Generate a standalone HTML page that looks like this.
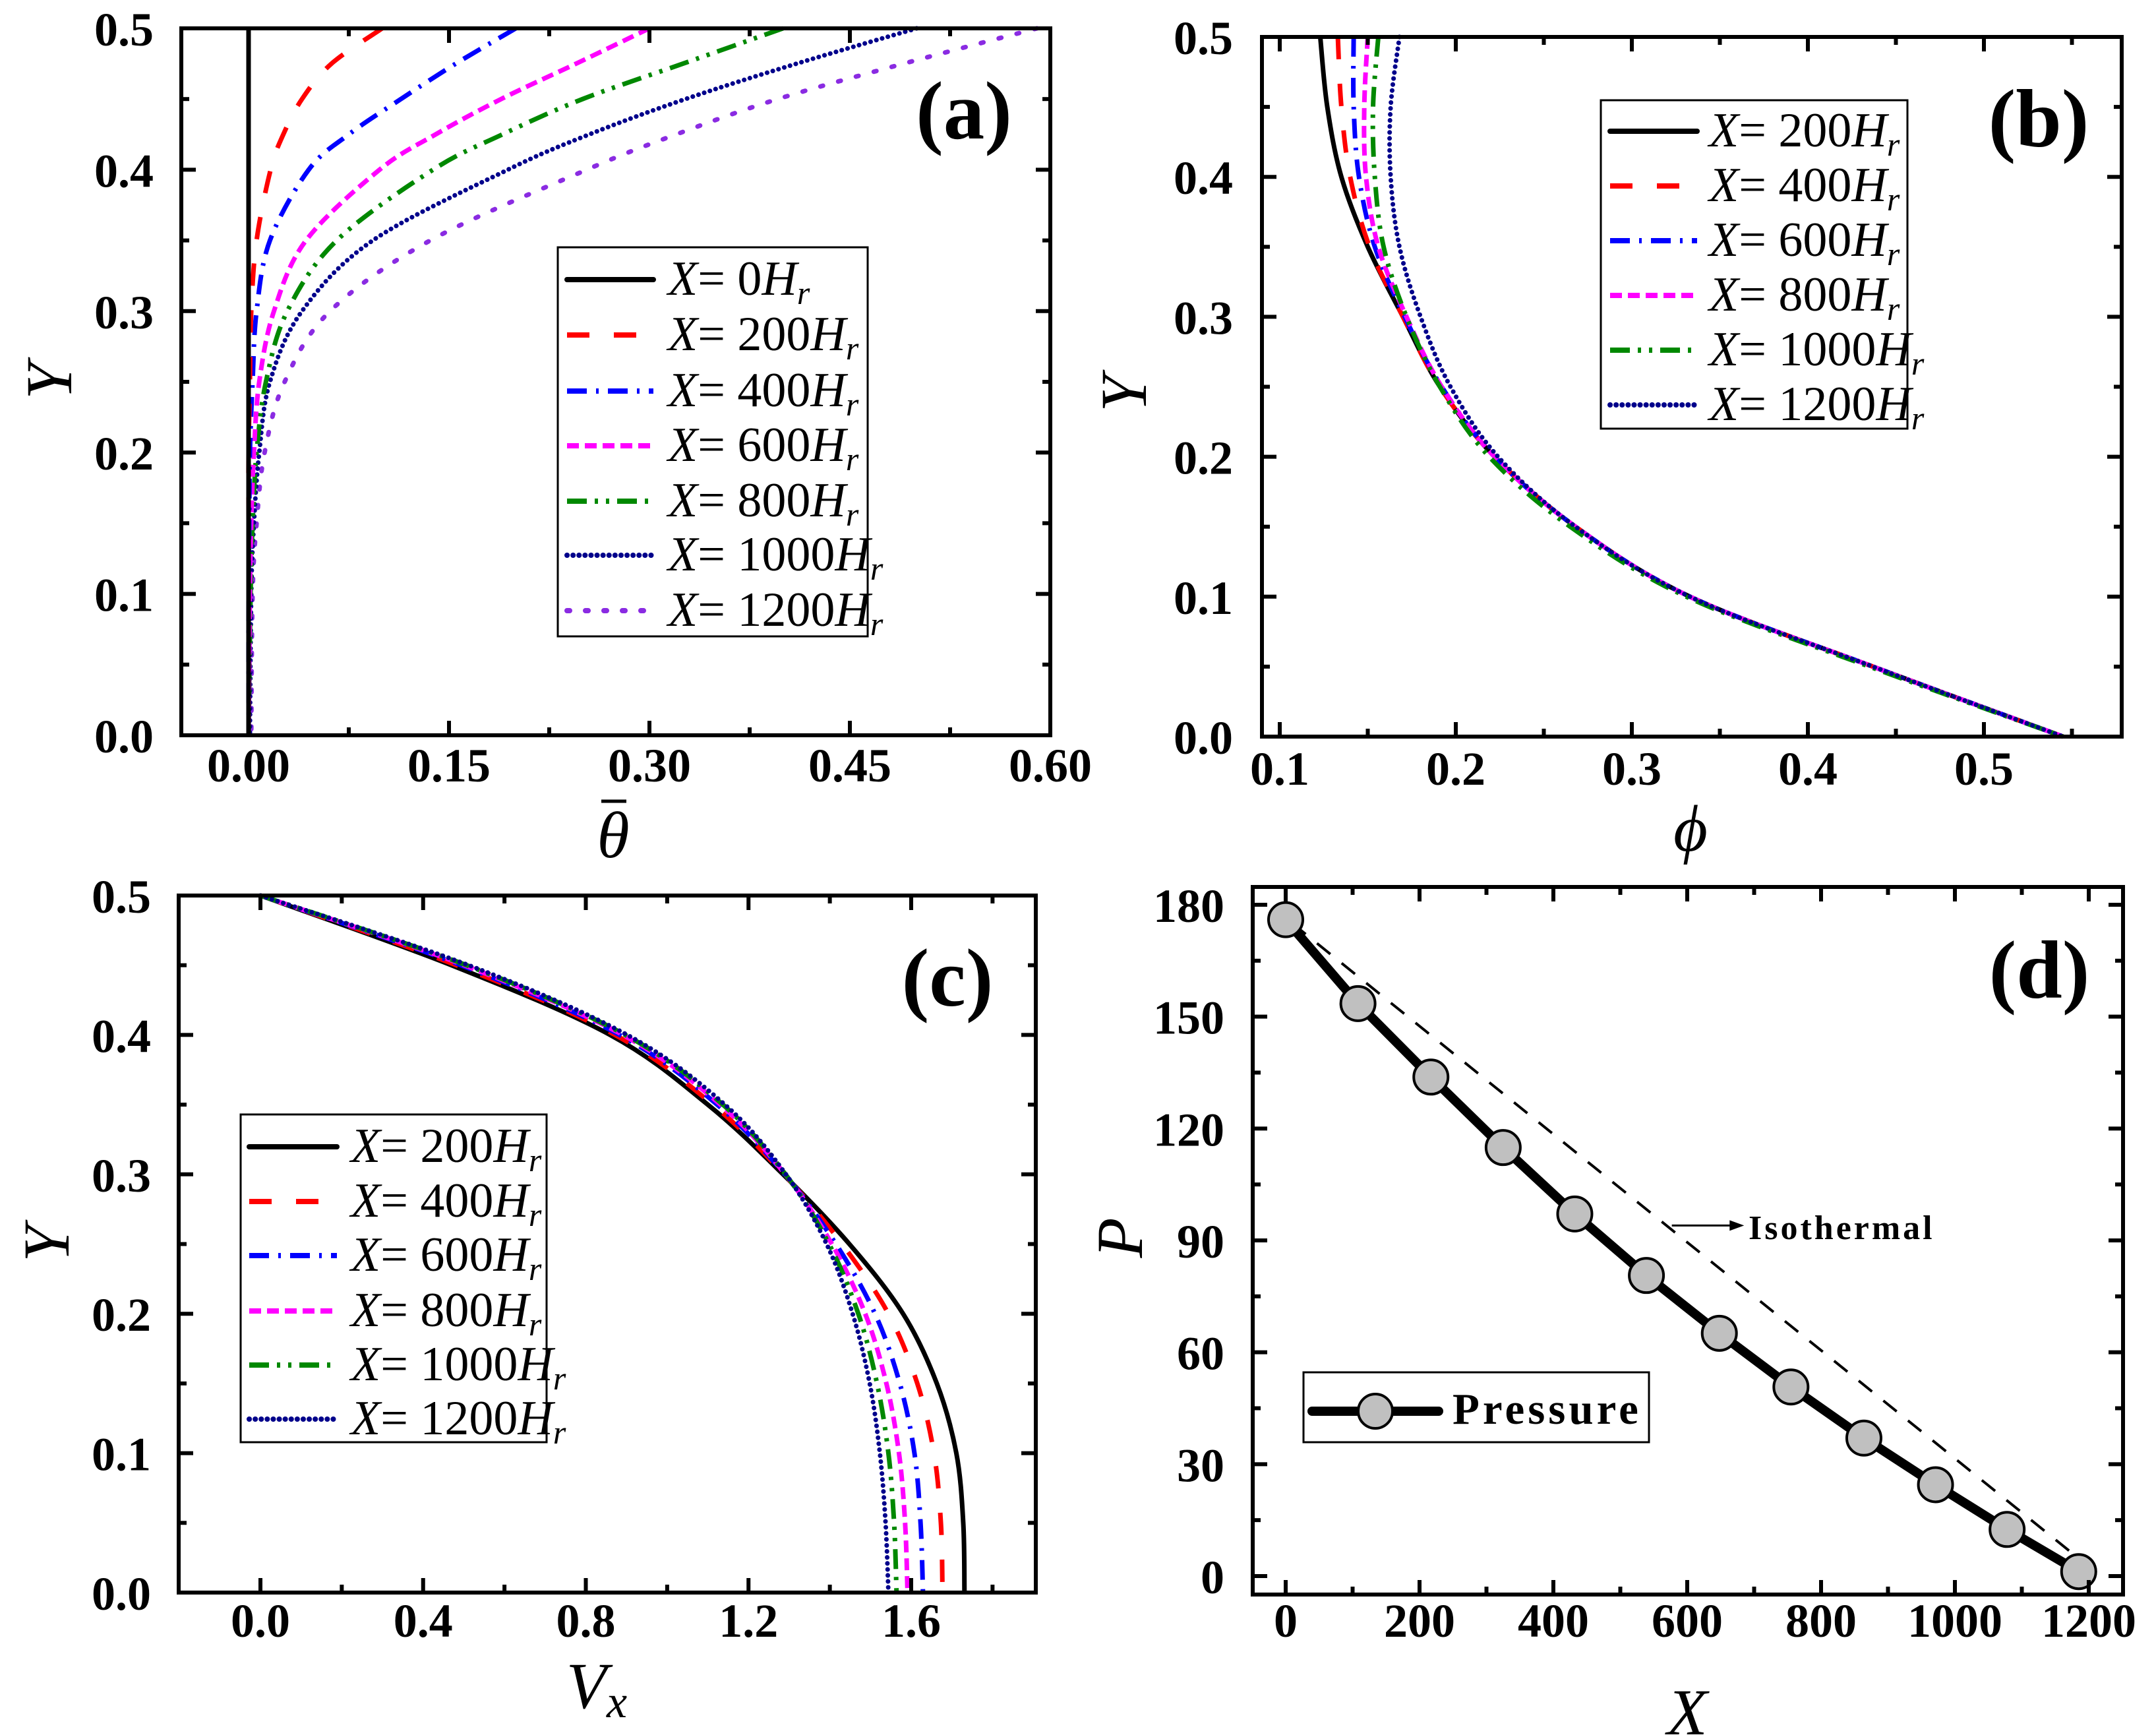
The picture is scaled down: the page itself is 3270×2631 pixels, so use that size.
<!DOCTYPE html>
<html><head><meta charset="utf-8"><style>
html,body{margin:0;padding:0;background:#fff;}
svg{display:block;}
text{font-family:"Liberation Serif",serif;}
.tk{font-weight:bold;font-size:72px;}
.lg{font-size:74px;}
.pl{font-weight:bold;font-size:125px;}
.ti{font-style:italic;font-size:100px;}
</style></head><body>
<svg id="fig" xmlns="http://www.w3.org/2000/svg" width="3270" height="2631" viewBox="0 0 3270 2631">
<rect width="3270" height="2631" fill="#fff"/>
<g id="pa"></g>
<g id="pb"></g>
<g id="pc"></g>
<g id="pd"></g>

<text class="pl" x="1462" y="210" text-anchor="middle">(a)</text>
<text class="pl" x="3092" y="222" text-anchor="middle">(b)</text>
<text class="pl" x="1437" y="1525" text-anchor="middle">(c)</text>
<text class="pl" x="3093" y="1513" text-anchor="middle">(d)</text>

<text class="ti" transform="translate(108,578) rotate(-90)" text-anchor="middle">Y</text>
<g>
<text class="ti" x="930" y="1300" text-anchor="middle">θ</text>
<line x1="912" y1="1215" x2="950" y2="1215" stroke="#000" stroke-width="5"/>
</g>
<text class="ti" transform="translate(1738,597) rotate(-90)" text-anchor="middle">Y</text>
<text class="ti" x="2564" y="1290" text-anchor="middle">ϕ</text>
<text class="ti" transform="translate(104,1886) rotate(-90)" text-anchor="middle">Y</text>
<text class="ti" x="905" y="2590" text-anchor="middle">V<tspan font-size="70" dy="14">x</tspan></text>
<text class="ti" transform="translate(1732,1877) rotate(-90)" text-anchor="middle">P</text>
<text class="ti" x="2559" y="2630" text-anchor="middle">X</text>

<g>
<rect x="846" y="375" width="470" height="590" fill="#fff" stroke="#000" stroke-width="3"/>
<g stroke-width="8" stroke-linecap="round" fill="none">
<line x1="860" y1="424" x2="991" y2="424" stroke="#000"/>
<line x1="860" y1="508" x2="991" y2="508" stroke="#f00" stroke-dasharray="34 37" stroke-linecap="butt"/>
<line x1="860" y1="593" x2="991" y2="593" stroke="#00f" stroke-dasharray="30 14 4 14" stroke-linecap="butt"/>
<line x1="860" y1="676" x2="991" y2="676" stroke="#f0f" stroke-dasharray="18 9" stroke-linecap="butt"/>
<line x1="860" y1="760" x2="991" y2="760" stroke="#080" stroke-dasharray="30 12 5 12 5 12" stroke-linecap="butt"/>
<line x1="860" y1="842" x2="991" y2="842" stroke="#00008b" stroke-dasharray="0.1 9"/>
<line x1="860" y1="926" x2="991" y2="926" stroke="#8a2be2" stroke-dasharray="4 24"/>
</g>
<g class="lg">
<text x="1013" y="447"><tspan font-style="italic">X</tspan>= 0<tspan font-style="italic">H</tspan><tspan font-style="italic" font-size="50" dy="14">r</tspan></text>
<text x="1013" y="531"><tspan font-style="italic">X</tspan>= 200<tspan font-style="italic">H</tspan><tspan font-style="italic" font-size="50" dy="14">r</tspan></text>
<text x="1013" y="616"><tspan font-style="italic">X</tspan>= 400<tspan font-style="italic">H</tspan><tspan font-style="italic" font-size="50" dy="14">r</tspan></text>
<text x="1013" y="699"><tspan font-style="italic">X</tspan>= 600<tspan font-style="italic">H</tspan><tspan font-style="italic" font-size="50" dy="14">r</tspan></text>
<text x="1013" y="783"><tspan font-style="italic">X</tspan>= 800<tspan font-style="italic">H</tspan><tspan font-style="italic" font-size="50" dy="14">r</tspan></text>
<text x="1013" y="865"><tspan font-style="italic">X</tspan>= 1000<tspan font-style="italic">H</tspan><tspan font-style="italic" font-size="50" dy="14">r</tspan></text>
<text x="1013" y="949"><tspan font-style="italic">X</tspan>= 1200<tspan font-style="italic">H</tspan><tspan font-style="italic" font-size="50" dy="14">r</tspan></text>
</g>
</g>

<g>
<rect x="2428" y="152" width="465" height="498" fill="#fff" stroke="#000" stroke-width="3"/>
<g stroke-width="8" stroke-linecap="round" fill="none">
<line x1="2442" y1="199" x2="2574" y2="199" stroke="#000"/>
<line x1="2442" y1="282" x2="2574" y2="282" stroke="#f00" stroke-dasharray="34 37" stroke-linecap="butt"/>
<line x1="2442" y1="365" x2="2574" y2="365" stroke="#00f" stroke-dasharray="30 14 4 14" stroke-linecap="butt"/>
<line x1="2442" y1="448" x2="2574" y2="448" stroke="#f0f" stroke-dasharray="18 9" stroke-linecap="butt"/>
<line x1="2442" y1="531" x2="2574" y2="531" stroke="#080" stroke-dasharray="30 12 5 12 5 12" stroke-linecap="butt"/>
<line x1="2442" y1="614" x2="2574" y2="614" stroke="#00008b" stroke-dasharray="0.1 9"/>
</g>
<g class="lg">
<text x="2592" y="222"><tspan font-style="italic">X</tspan>= 200<tspan font-style="italic">H</tspan><tspan font-style="italic" font-size="50" dy="14">r</tspan></text>
<text x="2592" y="305"><tspan font-style="italic">X</tspan>= 400<tspan font-style="italic">H</tspan><tspan font-style="italic" font-size="50" dy="14">r</tspan></text>
<text x="2592" y="388"><tspan font-style="italic">X</tspan>= 600<tspan font-style="italic">H</tspan><tspan font-style="italic" font-size="50" dy="14">r</tspan></text>
<text x="2592" y="471"><tspan font-style="italic">X</tspan>= 800<tspan font-style="italic">H</tspan><tspan font-style="italic" font-size="50" dy="14">r</tspan></text>
<text x="2592" y="554"><tspan font-style="italic">X</tspan>= 1000<tspan font-style="italic">H</tspan><tspan font-style="italic" font-size="50" dy="14">r</tspan></text>
<text x="2592" y="637"><tspan font-style="italic">X</tspan>= 1200<tspan font-style="italic">H</tspan><tspan font-style="italic" font-size="50" dy="14">r</tspan></text>
</g>
</g>

<g>
<rect x="365" y="1690" width="464" height="497" fill="#fff" stroke="#000" stroke-width="3"/>
<g stroke-width="8" stroke-linecap="round" fill="none">
<line x1="378" y1="1739" x2="511" y2="1739" stroke="#000"/>
<line x1="378" y1="1822" x2="511" y2="1822" stroke="#f00" stroke-dasharray="34 37" stroke-linecap="butt"/>
<line x1="378" y1="1904" x2="511" y2="1904" stroke="#00f" stroke-dasharray="30 14 4 14" stroke-linecap="butt"/>
<line x1="378" y1="1988" x2="511" y2="1988" stroke="#f0f" stroke-dasharray="18 9" stroke-linecap="butt"/>
<line x1="378" y1="2070" x2="511" y2="2070" stroke="#080" stroke-dasharray="30 12 5 12 5 12" stroke-linecap="butt"/>
<line x1="378" y1="2152" x2="511" y2="2152" stroke="#00008b" stroke-dasharray="0.1 9"/>
</g>
<g class="lg">
<text x="532" y="1762"><tspan font-style="italic">X</tspan>= 200<tspan font-style="italic">H</tspan><tspan font-style="italic" font-size="50" dy="14">r</tspan></text>
<text x="532" y="1845"><tspan font-style="italic">X</tspan>= 400<tspan font-style="italic">H</tspan><tspan font-style="italic" font-size="50" dy="14">r</tspan></text>
<text x="532" y="1927"><tspan font-style="italic">X</tspan>= 600<tspan font-style="italic">H</tspan><tspan font-style="italic" font-size="50" dy="14">r</tspan></text>
<text x="532" y="2011"><tspan font-style="italic">X</tspan>= 800<tspan font-style="italic">H</tspan><tspan font-style="italic" font-size="50" dy="14">r</tspan></text>
<text x="532" y="2093"><tspan font-style="italic">X</tspan>= 1000<tspan font-style="italic">H</tspan><tspan font-style="italic" font-size="50" dy="14">r</tspan></text>
<text x="532" y="2175"><tspan font-style="italic">X</tspan>= 1200<tspan font-style="italic">H</tspan><tspan font-style="italic" font-size="50" dy="14">r</tspan></text>
</g>
</g>

<g>
<rect x="1977" y="2081" width="524" height="106" fill="#fff" stroke="#000" stroke-width="3"/>
<line x1="1990" y1="2140" x2="2182" y2="2140" stroke="#000" stroke-width="14" stroke-linecap="round"/>
<circle cx="2086" cy="2140" r="26" fill="#c0c0c0" stroke="#000" stroke-width="4"/>
<text x="2203" y="2159" font-weight="bold" font-size="67" letter-spacing="5">Pressure</text>
</g>
<text x="2652" y="1879" font-weight="bold" font-size="52" letter-spacing="4">Isothermal</text>
</svg>

<script>
// panel (a): Y vs mean theta
const aY = [0.5,0.475,0.45,0.425,0.4,0.35,0.3,0.25,0.2,0.15,0.1,0];
const aX0    = [0,0,0,0,0,0,0,0,0,0,0,0];
const aX200  = [0.10,0.062,0.040,0.026,0.0165,0.006,0.002,0.001,0,0,0,0];
const aX400  = [0.20,0.155,0.114,0.075,0.045,0.016,0.006,0.003,0.001,0.0005,0,0];
const aX600  = [0.30,0.245,0.189,0.14,0.098,0.043,0.019,0.008,0.004,0.002,0.001,0];
const aX800  = [0.40,0.325,0.250,0.19,0.138,0.066,0.029,0.013,0.006,0.003,0.0015,0];
const aX1000 = [0.50,0.41,0.327,0.255,0.194,0.093,0.040,0.016,0.008,0.004,0.002,0.001];
const aX1200 = [0.59,0.49,0.396,0.32,0.253,0.136,0.061,0.027,0.012,0.006,0.003,0.002];
const aXTicks = ["0.00","0.15","0.30","0.45","0.60"];
const aYTicks = ["0.0","0.1","0.2","0.3","0.4","0.5"];
// panel (b): Y vs phi
const bY = [0.5,0.45,0.4,0.35,0.3,0.25,0.2,0.15,0.1,0.05,0];
const bX200  = [0.123,0.127,0.135,0.150,0.170,0.191,0.222,0.268,0.333,0.437,0.545];
const bX400  = [0.133,0.135,0.140,0.151,0.170,0.191,0.222,0.268,0.333,0.437,0.545];
const bX600  = [0.142,0.142,0.145,0.154,0.171,0.192,0.222,0.268,0.333,0.437,0.545];
const bX800  = [0.150,0.148,0.149,0.156,0.172,0.192,0.222,0.268,0.333,0.437,0.545];
const bX1000 = [0.156,0.153,0.154,0.159,0.172,0.191,0.219,0.265,0.331,0.435,0.545];
const bX1200 = [0.168,0.163,0.163,0.168,0.180,0.197,0.224,0.268,0.333,0.437,0.545];
const bXTicks = ["0.1","0.2","0.3","0.4","0.5"];
const bYTicks = ["0.0","0.1","0.2","0.3","0.4","0.5"];
// panel (c): Y vs Vx
const cY = [0.5,0.45,0.4,0.35,0.3,0.25,0.2,0.15,0.1,0.05,0];
const cX200  = [0,0.470,0.860,1.100,1.285,1.448,1.580,1.663,1.711,1.728,1.731];
const cX400  = [0,0.482,0.872,1.112,1.287,1.430,1.544,1.615,1.656,1.673,1.677];
const cX600  = [0,0.493,0.883,1.123,1.289,1.415,1.511,1.572,1.608,1.623,1.629];
const cX800  = [0,0.501,0.891,1.131,1.290,1.405,1.487,1.539,1.570,1.585,1.591];
const cX1000 = [0,0.507,0.897,1.137,1.291,1.398,1.470,1.516,1.544,1.558,1.564];
const cX1200 = [0,0.512,0.902,1.142,1.292,1.392,1.456,1.498,1.523,1.537,1.544];
const cXTicks = ["0.0","0.4","0.8","1.2","1.6"];
const cYTicks = ["0.0","0.1","0.2","0.3","0.4","0.5"];
// panel (d): P vs X
const dX = [0,108,217,325,432,539,648,755,864,971,1078,1185];
const dP = [176,153.5,133.8,114.9,97.1,80.6,65.1,50.7,37.0,24.5,12.5,1.2];
const isoX = [10,1190];
const isoP = [175,4];
const arrowX = [577,685];
const arrowP = [94,94];
const dXTicks = ["0","200","400","600","800","1000","1200"];
const dYTicks = ["0","30","60","90","120","150","180"];

const NS = "http://www.w3.org/2000/svg";
function mk(parent, tag, attrs){
  const e = document.createElementNS(NS, tag);
  for (const k in attrs) e.setAttribute(k, attrs[k]);
  parent.appendChild(e);
  return e;
}
function lin(d0,d1,p0,p1){ return v => p0 + (v-d0)*(p1-p0)/(d1-d0); }
function smoothPath(pts){
  let d = "M"+pts[0][0].toFixed(2)+","+pts[0][1].toFixed(2);
  for (let i=0;i<pts.length-1;i++){
    const p0 = pts[i-1]||pts[i], p1=pts[i], p2=pts[i+1], p3=pts[i+2]||pts[i+1];
    const c1=[p1[0]+(p2[0]-p0[0])/6, p1[1]+(p2[1]-p0[1])/6];
    const c2=[p2[0]-(p3[0]-p1[0])/6, p2[1]-(p3[1]-p1[1])/6];
    d += " C"+c1[0].toFixed(2)+","+c1[1].toFixed(2)+" "+c2[0].toFixed(2)+","+c2[1].toFixed(2)+" "+p2[0].toFixed(2)+","+p2[1].toFixed(2);
  }
  return d;
}
function axes(g, box, sx, sy, xt, xv, xminor, yt, yv, yminor, xlabY, ylabX){
  const fr = mk(g,"rect",{x:box.l,y:box.t,width:box.r-box.l,height:box.b-box.t,fill:"none",stroke:"#000","stroke-width":6});
  
  
  const M=22, m=12;
  const tg = mk(g,"g",{stroke:"#000","stroke-width":6});
  
  
  xv.forEach(v=>{const x=sx(v);
    mk(tg,"line",{x1:x,y1:box.b,x2:x,y2:box.b-M}); mk(tg,"line",{x1:x,y1:box.t,x2:x,y2:box.t+M});});
  xminor.forEach(v=>{const x=sx(v);
    mk(tg,"line",{x1:x,y1:box.b,x2:x,y2:box.b-m}); mk(tg,"line",{x1:x,y1:box.t,x2:x,y2:box.t+m});});
  yv.forEach(v=>{const y=sy(v);
    mk(tg,"line",{x1:box.l,y1:y,x2:box.l+M,y2:y}); mk(tg,"line",{x1:box.r,y1:y,x2:box.r-M,y2:y});});
  yminor.forEach(v=>{const y=sy(v);
    mk(tg,"line",{x1:box.l,y1:y,x2:box.l+m,y2:y}); mk(tg,"line",{x1:box.r,y1:y,x2:box.r-m,y2:y});});
  xt.forEach((s,i)=>{
    const t = mk(g,"text",{x:sx(xv[i]),y:xlabY,"text-anchor":"middle",class:"tk"});
    t.textContent = s;
    
    
  });
  yt.forEach((s,i)=>{
    const t = mk(g,"text",{x:ylabX,y:sy(yv[i])+26,"text-anchor":"end",class:"tk"});
    t.textContent = s;
    
    
  });
}
const styles = {
  k:{stroke:"#000"},
  r:{stroke:"#f00","stroke-dasharray":"34 37"},
  b:{stroke:"#00f","stroke-dasharray":"30 14 4 14"},
  m:{stroke:"#f0f","stroke-dasharray":"18 9"},
  g:{stroke:"#080","stroke-dasharray":"30 12 5 12 5 12"},
  n:{stroke:"#00008b","stroke-dasharray":"0.1 9","stroke-linecap":"round"},
  p:{stroke:"#8a2be2","stroke-dasharray":"4 24","stroke-linecap":"round"}
};
function curve(g, xs, ys, sx, sy, st, name){
  const pts = xs.map((v,i)=>[sx(v), sy(ys[i])]);
  const a = Object.assign({d:smoothPath(pts),fill:"none","stroke-width":7}, styles[st]);
  const p = mk(g,"path",a);
  
  
}
function nums(labels){ return labels.map(Number); }

(function(){
  const g = document.getElementById("pa");
  const box={l:275,r:1593,t:43,b:1115};
  const sx=lin(0,0.6,377,1593), sy=lin(0,0.5,1115,43);
  const xv=nums(aXTicks), yv=nums(aYTicks);
  const cg = mk(g,"g",{});
  
  
  curve(cg,aX1200,aY,sx,sy,"p","series-x1200");
  curve(cg,aX1000,aY,sx,sy,"n","series-x1000");
  curve(cg,aX800,aY,sx,sy,"g","series-x800");
  curve(cg,aX600,aY,sx,sy,"m","series-x600");
  curve(cg,aX400,aY,sx,sy,"b","series-x400");
  curve(cg,aX200,aY,sx,sy,"r","series-x200");
  curve(cg,aX0,aY,sx,sy,"k","series-x0");
  axes(g,box,sx,sy,aXTicks,xv,[0.075,0.225,0.375,0.525],aYTicks,yv,[0.05,0.15,0.25,0.35,0.45],1185,233);
})();
(function(){
  const g = document.getElementById("pb");
  const box={l:1914,r:3218,t:56,b:1117};
  const sx=lin(0.1,0.5,1941,3009), sy=lin(0,0.5,1117,56);
  const xv=nums(bXTicks), yv=nums(bYTicks);
  const cg = mk(g,"g",{});
  
  
  curve(cg,bX200,bY,sx,sy,"k","series-x200");
  curve(cg,bX400,bY,sx,sy,"r","series-x400");
  curve(cg,bX600,bY,sx,sy,"b","series-x600");
  curve(cg,bX800,bY,sx,sy,"m","series-x800");
  curve(cg,bX1000,bY,sx,sy,"g","series-x1000");
  curve(cg,bX1200,bY,sx,sy,"n","series-x1200");
  axes(g,box,sx,sy,bXTicks,xv,[0.15,0.25,0.35,0.45,0.55],bYTicks,yv,[0.05,0.15,0.25,0.35,0.45],1190,1870);
})();
(function(){
  const g = document.getElementById("pc");
  const box={l:271,r:1571,t:1358,b:2415};
  const sx=lin(0,1.6,395,1382), sy=lin(0,0.5,2415,1358);
  const xv=nums(cXTicks), yv=nums(cYTicks);
  const cg = mk(g,"g",{});
  
  
  curve(cg,cX200,cY,sx,sy,"k","series-x200");
  curve(cg,cX400,cY,sx,sy,"r","series-x400");
  curve(cg,cX600,cY,sx,sy,"b","series-x600");
  curve(cg,cX800,cY,sx,sy,"m","series-x800");
  curve(cg,cX1000,cY,sx,sy,"g","series-x1000");
  curve(cg,cX1200,cY,sx,sy,"n","series-x1200");
  axes(g,box,sx,sy,cXTicks,xv,[0.2,0.6,1.0,1.4,1.8],cYTicks,yv,[0.05,0.15,0.25,0.35,0.45],2482,229);
})();
(function(){
  const g = document.getElementById("pd");
  const box={l:1900,r:3220,t:1345,b:2418};
  const sx=lin(0,1200,1950,3168), sy=lin(0,180,2390,1372);
  const xv=nums(dXTicks), yv=nums(dYTicks);
  const iso = mk(g,"line",{x1:sx(isoX[0]),y1:sy(isoP[0]),x2:sx(isoX[1]),y2:sy(isoP[1]),stroke:"#000","stroke-width":4,"stroke-dasharray":"26 22"});
  
  
  const ar = mk(g,"line",{x1:sx(arrowX[0]),y1:sy(arrowP[0]),x2:sx(arrowX[1])-18,y2:sy(arrowP[1]),stroke:"#000","stroke-width":3});
  
  
  const ah = mk(g,"polygon",{points:(sx(arrowX[1])-22)+","+(sy(arrowP[1])-8)+" "+sx(arrowX[1])+","+sy(arrowP[1])+" "+(sx(arrowX[1])-22)+","+(sy(arrowP[1])+8),fill:"#000"});
  
  
  const pts = dX.map((v,i)=>[sx(v),sy(dP[i])]);
  const pl = mk(g,"polyline",{points:pts.map(p=>p.join(",")).join(" "),fill:"none",stroke:"#000","stroke-width":14,"stroke-linejoin":"round"});
  
  
  pts.forEach(p=>{
    const c = mk(g,"circle",{cx:p[0],cy:p[1],r:26,fill:"#c0c0c0",stroke:"#000","stroke-width":4});
    
    
  });
  axes(g,box,sx,sy,dXTicks,xv,[100,300,500,700,900,1100],dYTicks,yv,[15,45,75,105,135,165],2482,1857);
})();
</script>
</body></html>
